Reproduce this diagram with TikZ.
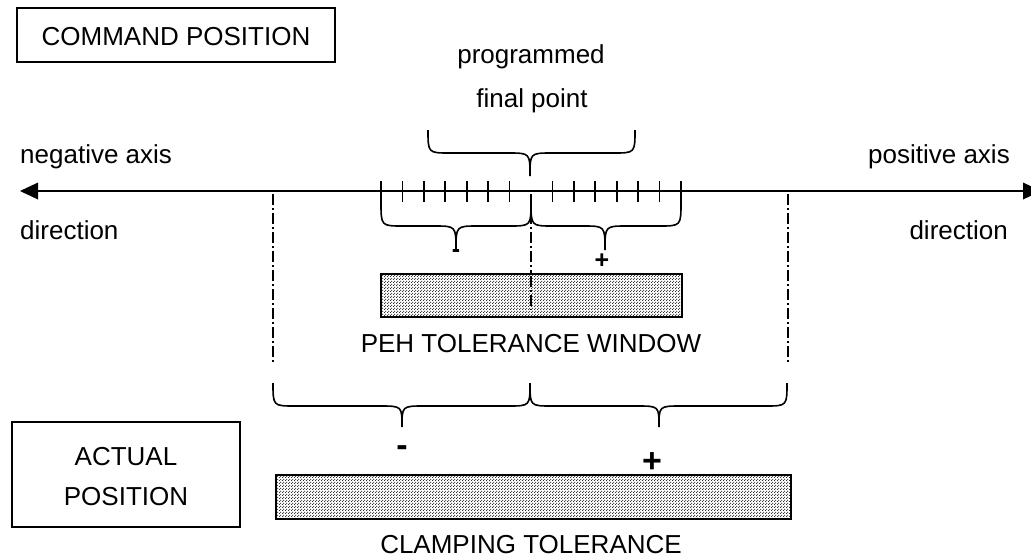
\documentclass[tikz,border=0pt]{standalone}
\usepackage{fontspec}
\setmainfont{Liberation Sans}
\usetikzlibrary{patterns}
\pgfdeclarepatternformonly{graydots}{\pgfqpoint{0pt}{0pt}}{\pgfqpoint{3pt}{3pt}}{\pgfqpoint{3pt}{3pt}}{%
  \pgfpathcircle{\pgfqpoint{0.75pt}{0.75pt}}{0.75pt}%
  \pgfpathcircle{\pgfqpoint{2.25pt}{2.25pt}}{0.75pt}%
  \pgfusepath{fill}}
\newcommand\dnbrace[6]{%
  \draw[bracestyle] (#1,#4) .. controls (#1,#5) .. ({#1+22},#5) -- ({#2-22},#5)
    .. controls (#2,#5) .. (#2,#6) .. controls (#2,#5) .. ({#2+22},#5)
    -- ({#3-22},#5) .. controls (#3,#5) .. (#3,#4);}
\begin{document}
\begin{tikzpicture}[x=1pt,y=-1pt,
  txt/.style={font=\fontsize{26}{31}\selectfont, inner sep=0pt},
  framebox/.style={draw, line width=1.3pt},
  bracestyle/.style={line width=1.6pt},
  dashdot/.style={line width=1.1pt, dash pattern=on 11pt off 3pt on 2pt off 3pt},
  shaded/.style={draw, line width=1.5pt, pattern=graydots, pattern color=black!90},
  sign/.style={font=\bfseries\fontsize{25}{28}\selectfont, inner sep=0pt},
  bigsign/.style={font=\bfseries\fontsize{34}{38}\selectfont, inner sep=0pt},
  tickline/.style={line width=1.8pt}]
\useasboundingbox (0,0) rectangle (1031,558);

% boxes
\draw[framebox] (17,8) rectangle (335,62);
\node[txt, anchor=base] (cmd) at (176,45) {COMMAND POSITION};
\draw[framebox] (12,422) rectangle (240,527);
\node[txt, anchor=base] (act1) at (126,465) {ACTUAL};
\node[txt, anchor=base] (act2) at (126,505) {POSITION};

% texts
\node[txt, anchor=base] (prog) at (531,63) {programmed};
\node[txt, anchor=base] (fin) at (532,107) {final point};
\node[txt, anchor=base west] (neg) at (20,163) {negative axis};
\node[txt, anchor=base west] (negd) at (20,239) {direction};
\node[txt, anchor=base east] (pos) at (1010,163) {positive axis};
\node[txt, anchor=base east] (posd) at (1008,239) {direction};

% axis
\coordinate (axL) at (38,191);
\coordinate (axR) at (1023,191);
\draw[line width=1.4pt] (axL) -- (axR);
\fill (20,191) -- (38,182.5) -- (38,199.5) -- cycle;
\fill (1041,191) -- (1023,182.5) -- (1023,199.5) -- cycle;

% ticks
\foreach \i in {0,...,6,8,9,...,14}
  \draw[tickline] ({381+21.43*\i},181) -- ({381+21.43*\i},202);

% dash-dot lines
\draw[dashdot] (531,194) -- (531,274);
\draw[dashdot] (273,194) -- (273,364);
\draw[dashdot] (788,194) -- (788,364);

% braces
\dnbrace{428}{530}{635}{130}{153}{176}
\dnbrace{381}{456}{531}{202}{226}{250}
\dnbrace{531}{605}{681}{202}{226}{250}
\dnbrace{273}{402}{530}{383}{406}{427}
\dnbrace{530}{659}{787}{383}{406}{427}

% signs
\node[sign] (m1) at (456,254) {-};
\node[sign] (p1) at (602,261) {+};
\node[bigsign] (m2) at (402,451) {-};
\node[bigsign] (p2) at (652,463) {+};

% bars
\draw[shaded] (381,274) rectangle (682,317);
\draw[dashdot] (531,276) -- (531,310);
\node[txt, anchor=base] (peh) at (531,352) {PEH TOLERANCE WINDOW};
\draw[shaded] (276,475) rectangle (791,519);
\node[txt, anchor=base] (clamp) at (531,553) {CLAMPING TOLERANCE};
\end{tikzpicture}
\end{document}
